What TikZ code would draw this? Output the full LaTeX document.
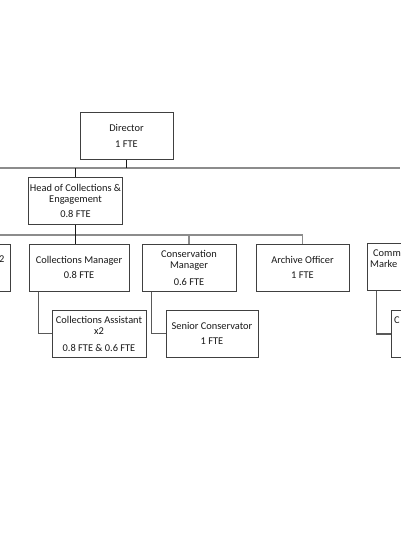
\documentclass[tikz,border=0pt]{standalone}
\usepackage{fontspec}
\setmainfont{Carlito}
\usepackage{xcolor}

\tikzset{
  post/.style={draw=black!75, line width=1pt, fill=white, minimum width=93pt,
    minimum height=47pt, align=center, inner sep=1pt, text=black!90,
    font=\fontsize{10.4}{11}\selectfont},
  tag/.style={inner sep=0pt, text=black!90, font=\fontsize{10.4}{11}\selectfont},
  bus/.style={draw=black!45, line width=1.1pt},
  drop/.style={draw=black!90, line width=1.1pt},
  link/.style={draw=black!65, line width=1.1pt}
}

\begin{document}
\begin{tikzpicture}[x=1pt,y=-1pt]
      \useasboundingbox (0,0) rectangle (400,535);
      \fill[white] (0,0) rectangle (400,535);

      % Bus lines
      \coordinate (busAL) at (0,168);
      \coordinate (busAR) at (400,168);
      \coordinate (busBL) at (0,235);

      % Posts
      \node[post] (dir) at (126.5,135.5) {Director\\[5pt]1 FTE};
      \node[post] (head) at (75.5,200.5) {Head of Collections \&\\Engagement\\[4pt]0.8 FTE};
      \node[post, minimum width=100pt] (cm) at (79,267.5) {Collections Manager\\[4pt]0.8 FTE};
      \node[post, minimum width=94pt] (cons) at (189,267.5) {Conservation\\Manager\\[6pt]0.6 FTE};
      \node[post] (arch) at (302.5,267.5) {Archive Officer\\[4pt]1 FTE};
      \node[post, minimum width=94pt] (ca) at (99,333.5) {Collections Assistant\\x2\\[6pt]0.8 FTE \& 0.6 FTE};
      \node[post, minimum width=92pt] (sc) at (212,333.5) {Senior Conservator\\[4pt]1 FTE};

      % Posts cut by the edges
      \node[post] (lft) at (-36.5,267.5) {};
      \node[post] (comm) at (413.5,267) {};
      \node[post] (co) at (437.5,334) {};
      \node[tag, anchor=base east] (lfttag) at (4.5,262.5) {2};
      \node[tag, anchor=base west] (commtagA) at (373,256.5) {Comm};
      \node[tag, anchor=base west] (commtagB) at (370,267.5) {Marke};
      \node[tag, anchor=base west] (cotag) at (394,323.5) {C};

      % Lines
      \draw[bus] (busAL) -- (busAR);
      \draw[bus] (busBL) -- (busBL -| arch.north) -- (arch.north);
      \draw[bus] (busBL -| cons.north) -- (cons.north);
      \draw[drop] (dir.south) -- (dir.south |- busAL);
      \draw[drop] (head.north |- busAL) -- (head.north);
      \draw[drop] (head.south) -- (head.south |- cm.north);

      % Reports
      \foreach \up/\down in {cm/ca, cons/sc, comm/co}
      {
        \draw[link] ([xshift=10pt]\up.south west) |- (\down.west);
      }
\end{tikzpicture}
\end{document}
